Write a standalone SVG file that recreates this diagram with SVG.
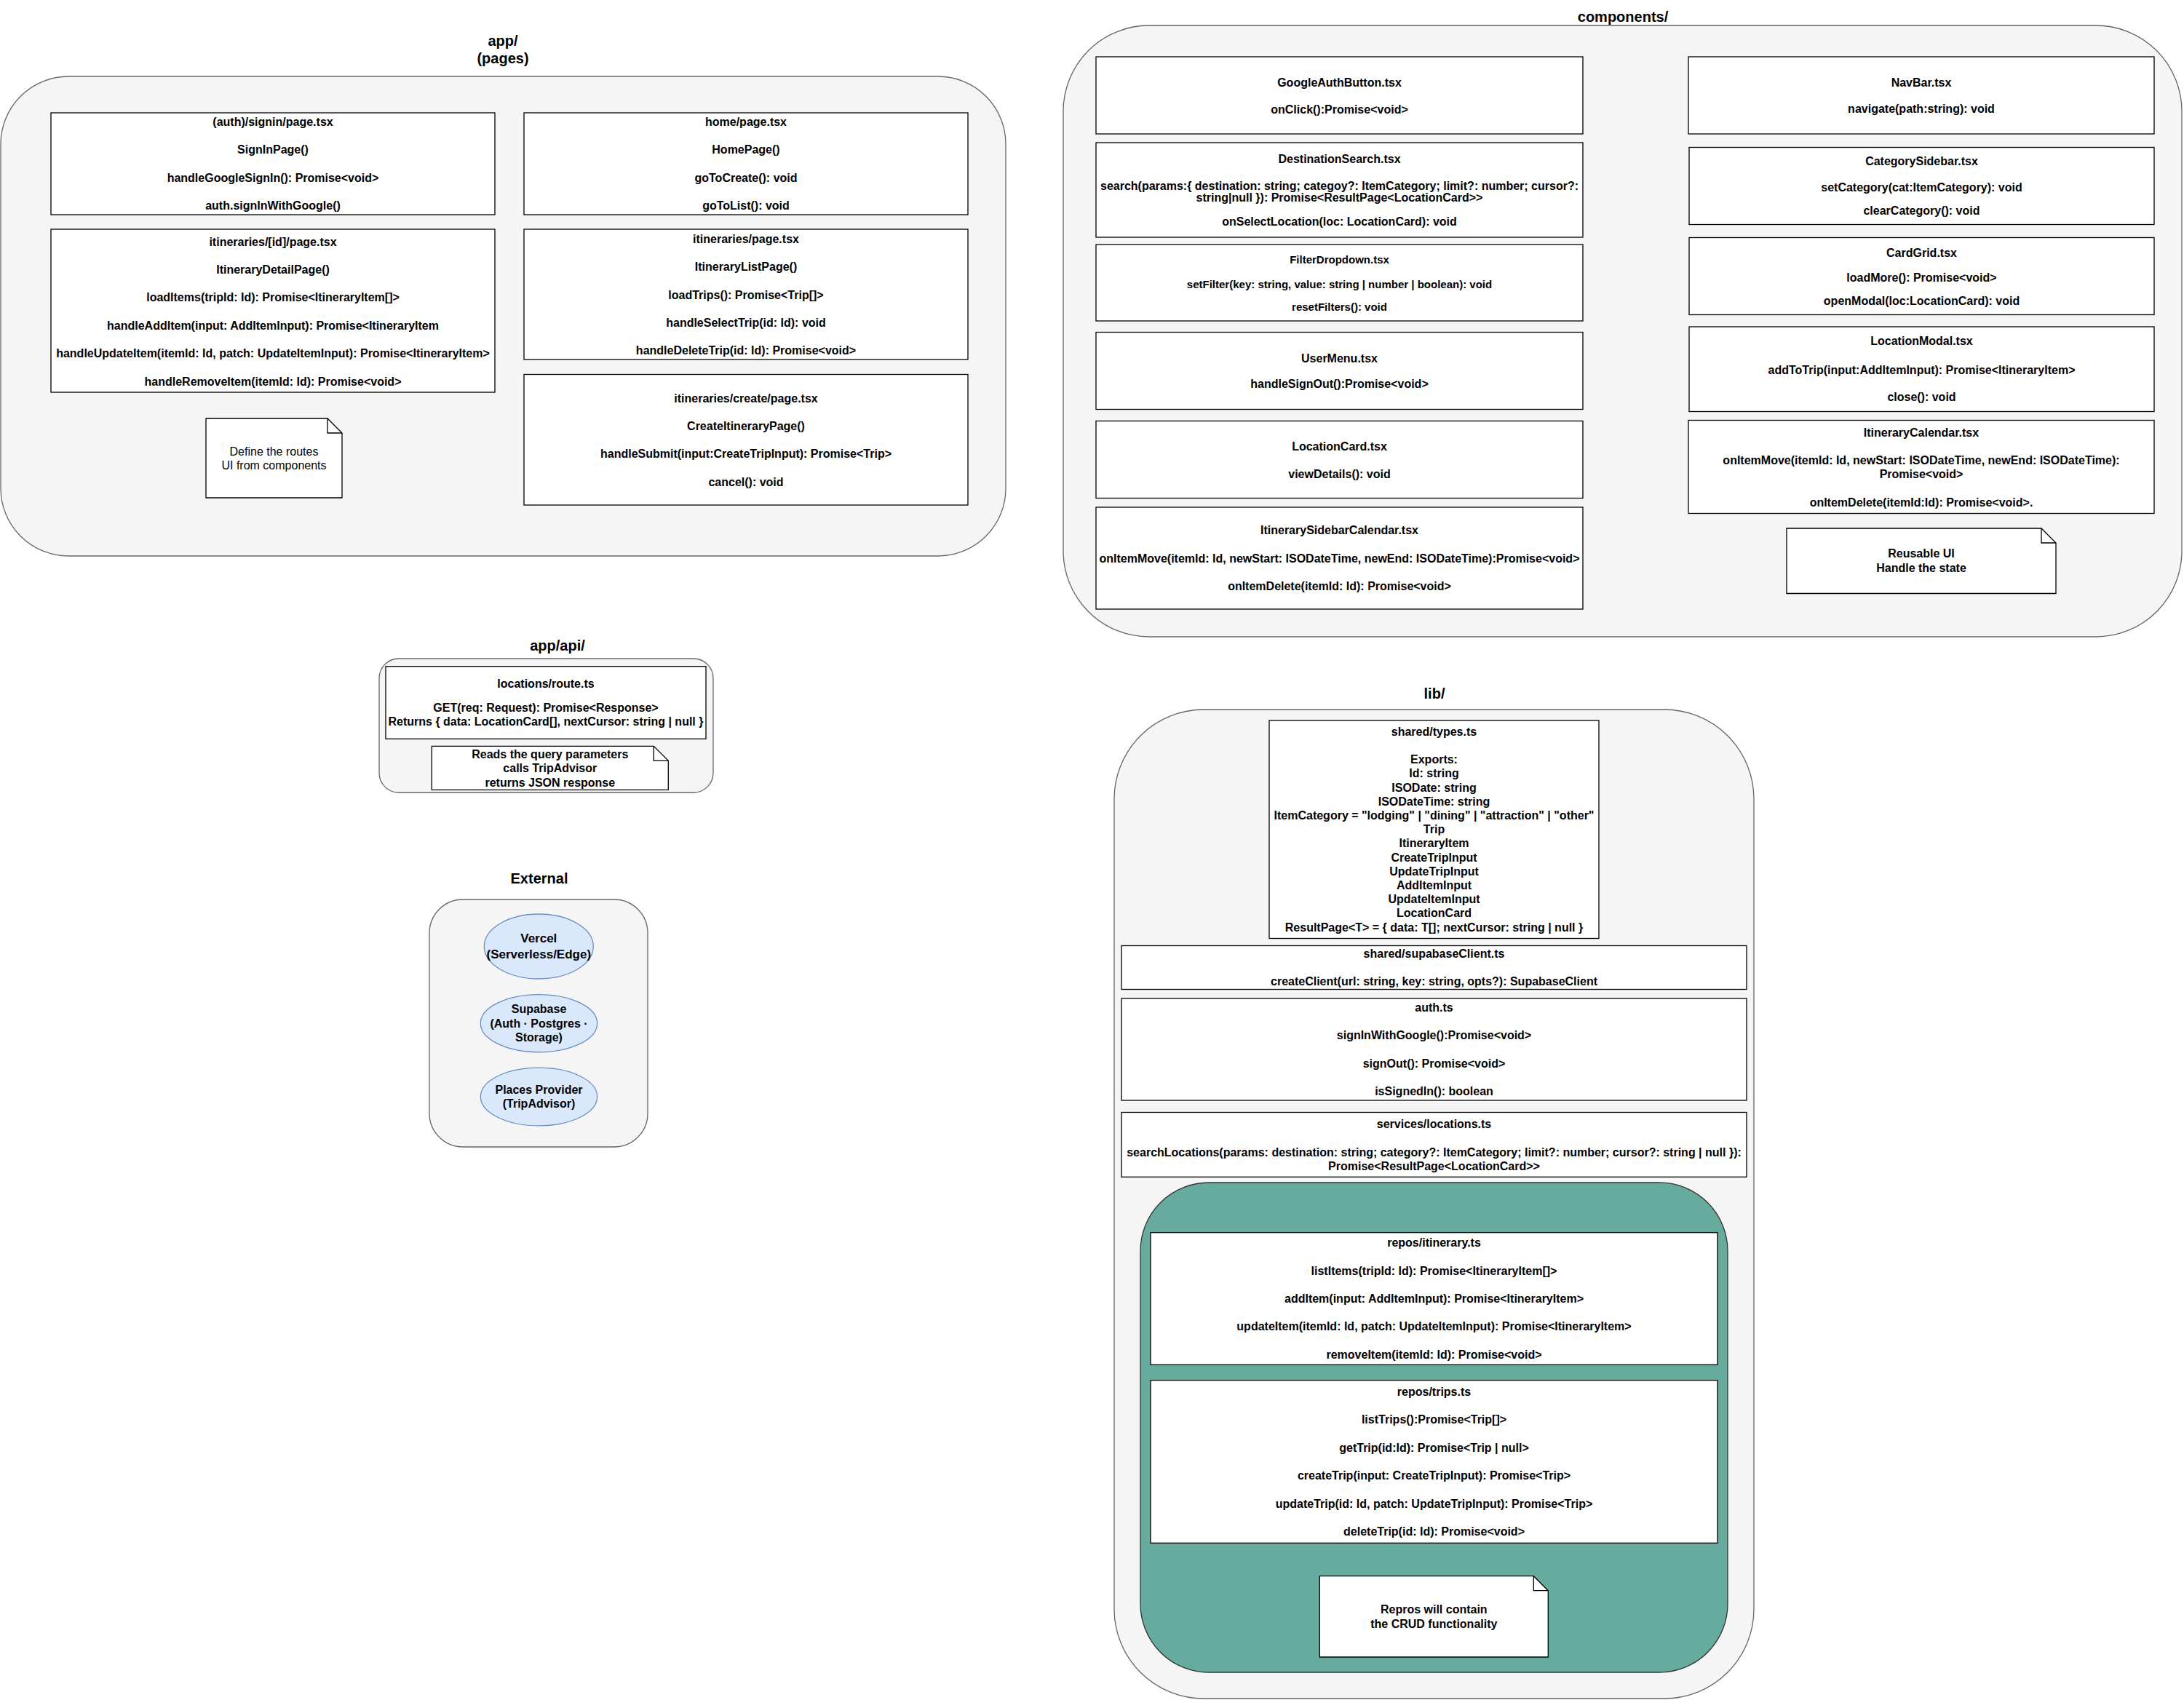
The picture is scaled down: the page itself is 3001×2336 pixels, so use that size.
<svg xmlns="http://www.w3.org/2000/svg" width="3001" height="2336" viewBox="0 0 3001 2336">
  <style>
    .bg { fill: #ffffff; }
    .container { fill: #f5f5f5; stroke: #666666; stroke-width: 1.3; }
    .box { fill: #ffffff; stroke: #000000; stroke-width: 1.3; }
    .note { fill: #ffffff; stroke: #000000; stroke-width: 1.3; stroke-linejoin: miter; }
    .fold { fill: none; stroke: #000000; stroke-width: 1.3; }
    .ext { fill: #dae8fc; stroke: #6c8ebf; stroke-width: 1.3; }
    .repo { fill: #67ab9f; stroke: #333333; stroke-width: 1.3; }
    text { font-family: "Liberation Sans", Arial, Helvetica, sans-serif; fill: #000000; text-anchor: middle; dominant-baseline: central; }
    .t { font-size: 16px; font-weight: bold; }
    .s { font-size: 15px; font-weight: bold; }
    .r { font-size: 16px; font-weight: normal; }
    .h { font-size: 20px; font-weight: bold; }
    .v { font-size: 17px; font-weight: bold; }
  </style>
  <rect class="bg" x="0" y="0" width="3001" height="2336"/>

  <!-- ===== app/ (pages) ===== -->
  <g id="app-pages">
    <rect class="container" x="1" y="105" width="1381" height="659" rx="93" ry="93"/>
    <text class="h" x="691" y="56">app/</text>
    <text class="h" x="691" y="80">(pages)</text>
  </g>
  <g id="signin-page">
    <rect class="box" x="70" y="155" width="610" height="140"/>
    <text class="t" x="375" y="167.5">(auth)/signin/page.tsx</text>
    <text class="t" x="375" y="205.8">SignInPage()</text>
    <text class="t" x="375" y="244">handleGoogleSignIn(): Promise&lt;void&gt;</text>
    <text class="t" x="375" y="282.4">auth.signInWithGoogle()</text>
  </g>
  <g id="home-page">
    <rect class="box" x="720" y="155" width="610" height="140"/>
    <text class="t" x="1025" y="167.5">home/page.tsx</text>
    <text class="t" x="1025" y="205.8">HomePage()</text>
    <text class="t" x="1025" y="244">goToCreate(): void</text>
    <text class="t" x="1025" y="282.4">goToList(): void</text>
  </g>
  <g id="itinerary-detail-page">
    <rect class="box" x="70" y="315" width="610" height="224"/>
    <text class="t" x="375" y="332">itineraries/[id]/page.tsx</text>
    <text class="t" x="375" y="370.4">ItineraryDetailPage()</text>
    <text class="t" x="375" y="408.8">loadItems(tripId: Id): Promise&lt;ItineraryItem[]&gt;</text>
    <text class="t" x="375" y="447.2">handleAddItem(input: AddItemInput): Promise&lt;ItineraryItem</text>
    <text class="t" x="375" y="485.6">handleUpdateItem(itemId: Id, patch: UpdateItemInput): Promise&lt;ItineraryItem&gt;</text>
    <text class="t" x="375" y="524">handleRemoveItem(itemId: Id): Promise&lt;void&gt;</text>
  </g>
  <g id="itinerary-list-page">
    <rect class="box" x="720" y="315" width="610" height="179"/>
    <text class="t" x="1025" y="328.3">itineraries/page.tsx</text>
    <text class="t" x="1025" y="366.7">ItineraryListPage()</text>
    <text class="t" x="1025" y="405.1">loadTrips(): Promise&lt;Trip[]&gt;</text>
    <text class="t" x="1025" y="443.5">handleSelectTrip(id: Id): void</text>
    <text class="t" x="1025" y="481.9">handleDeleteTrip(id: Id): Promise&lt;void&gt;</text>
  </g>
  <g id="create-itinerary-page">
    <rect class="box" x="720" y="514.5" width="610" height="179.5"/>
    <text class="t" x="1025" y="547">itineraries/create/page.tsx</text>
    <text class="t" x="1025" y="585.4">CreateItineraryPage()</text>
    <text class="t" x="1025" y="623.8">handleSubmit(input:CreateTripInput): Promise&lt;Trip&gt;</text>
    <text class="t" x="1025" y="662.2">cancel(): void</text>
  </g>
  <g id="note-pages">
    <path class="note" d="M283,575 H450 L470,595 V684 H283 Z"/>
    <path class="fold" d="M450,575 V595 H470"/>
    <text class="r" x="376.5" y="620">Define the routes</text>
    <text class="r" x="376.5" y="639.5">UI from components</text>
  </g>

  <!-- ===== components/ ===== -->
  <g id="components">
    <rect class="container" x="1461" y="35" width="1537" height="840" rx="118" ry="118"/>
    <text class="h" x="2230" y="23">components/</text>
  </g>
  <g id="google-auth-button">
    <rect class="box" x="1506" y="78" width="669" height="106"/>
    <text class="t" x="1840.5" y="113.5">GoogleAuthButton.tsx</text>
    <text class="t" x="1840.5" y="150">onClick():Promise&lt;void&gt;</text>
  </g>
  <g id="destination-search">
    <rect class="box" x="1506" y="196" width="669" height="130"/>
    <text class="t" x="1840.5" y="218.5">DestinationSearch.tsx</text>
    <text class="t" x="1840.5" y="255.3">search(params:{ destination: string; categoy?: ItemCategory; limit?: number; cursor?:</text>
    <text class="t" x="1840.5" y="271">string|null }): Promise&lt;ResultPage&lt;LocationCard&gt;&gt;</text>
    <text class="t" x="1840.5" y="304.3">onSelectLocation(loc: LocationCard): void</text>
  </g>
  <g id="filter-dropdown">
    <rect class="box" x="1506" y="336" width="669" height="105"/>
    <text class="s" x="1840.5" y="356.5">FilterDropdown.tsx</text>
    <text class="s" x="1840.5" y="390.5">setFilter(key: string, value: string | number | boolean): void</text>
    <text class="s" x="1840.5" y="421.3">resetFilters(): void</text>
  </g>
  <g id="user-menu">
    <rect class="box" x="1506" y="456.5" width="669" height="106"/>
    <text class="t" x="1840.5" y="492.5">UserMenu.tsx</text>
    <text class="t" x="1840.5" y="527.8">handleSignOut():Promise&lt;void&gt;</text>
  </g>
  <g id="location-card">
    <rect class="box" x="1506" y="578.5" width="669" height="106"/>
    <text class="t" x="1840.5" y="613.2">LocationCard.tsx</text>
    <text class="t" x="1840.5" y="651.4">viewDetails(): void</text>
  </g>
  <g id="itinerary-sidebar-calendar">
    <rect class="box" x="1506" y="697" width="669" height="140"/>
    <text class="t" x="1840.5" y="728.3">ItinerarySidebarCalendar.tsx</text>
    <text class="t" x="1840.5" y="767.6">onItemMove(itemId: Id, newStart: ISODateTime, newEnd: ISODateTime):Promise&lt;void&gt;</text>
    <text class="t" x="1840.5" y="805.8">onItemDelete(itemId: Id): Promise&lt;void&gt;</text>
  </g>
  <g id="nav-bar">
    <rect class="box" x="2320" y="78" width="640" height="106"/>
    <text class="t" x="2640" y="113.5">NavBar.tsx</text>
    <text class="t" x="2640" y="149.4">navigate(path:string): void</text>
  </g>
  <g id="category-sidebar">
    <rect class="box" x="2321" y="202.5" width="639" height="106"/>
    <text class="t" x="2640.5" y="221.3">CategorySidebar.tsx</text>
    <text class="t" x="2640.5" y="257.2">setCategory(cat:ItemCategory): void</text>
    <text class="t" x="2640.5" y="289.8">clearCategory(): void</text>
  </g>
  <g id="card-grid">
    <rect class="box" x="2321" y="326.5" width="639" height="106"/>
    <text class="t" x="2640.5" y="347">CardGrid.tsx</text>
    <text class="t" x="2640.5" y="381.9">loadMore(): Promise&lt;void&gt;</text>
    <text class="t" x="2640.5" y="413.9">openModal(loc:LocationCard): void</text>
  </g>
  <g id="location-modal">
    <rect class="box" x="2321" y="449" width="639" height="116.5"/>
    <text class="t" x="2640.5" y="468.9">LocationModal.tsx</text>
    <text class="t" x="2640.5" y="508.2">addToTrip(input:AddItemInput): Promise&lt;ItineraryItem&gt;</text>
    <text class="t" x="2640.5" y="545.8">close(): void</text>
  </g>
  <g id="itinerary-calendar">
    <rect class="box" x="2320" y="577.5" width="640" height="128"/>
    <text class="t" x="2640" y="594">ItineraryCalendar.tsx</text>
    <text class="t" x="2640" y="632">onItemMove(itemId: Id, newStart: ISODateTime, newEnd: ISODateTime):</text>
    <text class="t" x="2640" y="651.6">Promise&lt;void&gt;</text>
    <text class="t" x="2640" y="690">onItemDelete(itemId:Id): Promise&lt;void&gt;.</text>
  </g>
  <g id="note-components">
    <path class="note" d="M2455,726 H2805 L2825,746 V815.5 H2455 Z"/>
    <path class="fold" d="M2805,726 V746 H2825"/>
    <text class="t" x="2640" y="760.6">Reusable UI</text>
    <text class="t" x="2640" y="780.6">Handle the state</text>
  </g>

  <!-- ===== app/api/ ===== -->
  <g id="app-api">
    <rect class="container" x="521" y="905" width="459" height="184" rx="27" ry="27"/>
    <text class="h" x="766" y="887">app/api/</text>
  </g>
  <g id="locations-route">
    <rect class="box" x="530" y="915.7" width="440" height="99.6"/>
    <text class="t" x="750" y="939">locations/route.ts</text>
    <text class="t" x="750" y="972">GET(req: Request): Promise&lt;Response&gt;</text>
    <text class="t" x="750" y="991.7">Returns { data: LocationCard[], nextCursor: string | null }</text>
  </g>
  <g id="note-api">
    <path class="note" d="M593.3,1025.3 H898.3 L918.3,1045.3 V1085.3 H593.3 Z"/>
    <path class="fold" d="M898.3,1025.3 V1045.3 H918.3"/>
    <text class="t" x="755.8" y="1036.5">Reads the query parameters</text>
    <text class="t" x="755.8" y="1055.8">calls TripAdvisor</text>
    <text class="t" x="755.8" y="1075">returns JSON response</text>
  </g>

  <!-- ===== External ===== -->
  <g id="external">
    <rect class="container" x="590" y="1236" width="300" height="340" rx="46" ry="46"/>
    <text class="h" x="741" y="1206.5">External</text>
  </g>
  <g id="vercel">
    <ellipse class="ext" cx="740.3" cy="1300.5" rx="75" ry="44.5"/>
    <text class="v" x="740.3" y="1289.8">Vercel</text>
    <text class="v" x="740.3" y="1311">(Serverless/Edge)</text>
  </g>
  <g id="supabase">
    <ellipse class="ext" cx="740.5" cy="1406.2" rx="80.2" ry="39.6"/>
    <text class="t" x="740.5" y="1386.8">Supabase</text>
    <text class="t" x="740.5" y="1406">(Auth · Postgres ·</text>
    <text class="t" x="740.5" y="1425.2">Storage)</text>
  </g>
  <g id="places-provider">
    <ellipse class="ext" cx="740.5" cy="1507" rx="80.2" ry="39.9"/>
    <text class="t" x="740.5" y="1497">Places Provider</text>
    <text class="t" x="740.5" y="1516.2">(TripAdvisor)</text>
  </g>

  <!-- ===== lib/ ===== -->
  <g id="lib">
    <rect class="container" x="1531" y="975" width="879" height="1359" rx="123" ry="123"/>
    <text class="h" x="1971" y="952.5">lib/</text>
  </g>
  <g id="shared-types">
    <rect class="box" x="1744" y="990" width="453" height="299.5"/>
    <text class="t" x="1970.5" y="1005.3">shared/types.ts</text>
    <text class="t" x="1970.5" y="1043.7">Exports:</text>
    <text class="t" x="1970.5" y="1062.9">Id: string</text>
    <text class="t" x="1970.5" y="1082.1">ISODate: string</text>
    <text class="t" x="1970.5" y="1101.3">ISODateTime: string</text>
    <text class="t" x="1970.5" y="1120.5">ItemCategory = "lodging" | "dining" | "attraction" | "other"</text>
    <text class="t" x="1970.5" y="1139.7">Trip</text>
    <text class="t" x="1970.5" y="1158.9">ItineraryItem</text>
    <text class="t" x="1970.5" y="1178.1">CreateTripInput</text>
    <text class="t" x="1970.5" y="1197.3">UpdateTripInput</text>
    <text class="t" x="1970.5" y="1216.5">AddItemInput</text>
    <text class="t" x="1970.5" y="1235.7">UpdateItemInput</text>
    <text class="t" x="1970.5" y="1254.9">LocationCard</text>
    <text class="t" x="1970.5" y="1274.1">ResultPage&lt;T&gt; = { data: T[]; nextCursor: string | null }</text>
  </g>
  <g id="supabase-client">
    <rect class="box" x="1541" y="1299.5" width="859" height="60"/>
    <text class="t" x="1970.5" y="1310.3">shared/supabaseClient.ts</text>
    <text class="t" x="1970.5" y="1348.7">createClient(url: string, key: string, opts?): SupabaseClient</text>
  </g>
  <g id="auth">
    <rect class="box" x="1541" y="1372" width="859" height="140"/>
    <text class="t" x="1970.5" y="1384.4">auth.ts</text>
    <text class="t" x="1970.5" y="1422.8">signInWithGoogle():Promise&lt;void&gt;</text>
    <text class="t" x="1970.5" y="1461.2">signOut(): Promise&lt;void&gt;</text>
    <text class="t" x="1970.5" y="1499.6">isSignedIn(): boolean</text>
  </g>
  <g id="services-locations">
    <rect class="box" x="1541" y="1528.5" width="859" height="88.8"/>
    <text class="t" x="1970.5" y="1544">services/locations.ts</text>
    <text class="t" x="1970.5" y="1583">searchLocations(params: destination: string; category?: ItemCategory; limit?: number; cursor?: string | null }):</text>
    <text class="t" x="1970.5" y="1602">Promise&lt;ResultPage&lt;LocationCard&gt;&gt;</text>
  </g>
  <g id="repos">
    <rect class="repo" x="1567" y="1625" width="807" height="673" rx="94" ry="94"/>
  </g>
  <g id="repo-itinerary">
    <rect class="box" x="1581" y="1693.7" width="779" height="181.6"/>
    <text class="t" x="1970.5" y="1707.7">repos/itinerary.ts</text>
    <text class="t" x="1970.5" y="1746.1">listItems(tripId: Id): Promise&lt;ItineraryItem[]&gt;</text>
    <text class="t" x="1970.5" y="1784.5">addItem(input: AddItemInput): Promise&lt;ItineraryItem&gt;</text>
    <text class="t" x="1970.5" y="1822.9">updateItem(itemId: Id, patch: UpdateItemInput): Promise&lt;ItineraryItem&gt;</text>
    <text class="t" x="1970.5" y="1861.3">removeItem(itemId: Id): Promise&lt;void&gt;</text>
  </g>
  <g id="repo-trips">
    <rect class="box" x="1581" y="1896.7" width="779" height="223.6"/>
    <text class="t" x="1970.5" y="1912.5">repos/trips.ts</text>
    <text class="t" x="1970.5" y="1950.9">listTrips():Promise&lt;Trip[]&gt;</text>
    <text class="t" x="1970.5" y="1989.3">getTrip(id:Id): Promise&lt;Trip | null&gt;</text>
    <text class="t" x="1970.5" y="2027.7">createTrip(input: CreateTripInput): Promise&lt;Trip&gt;</text>
    <text class="t" x="1970.5" y="2066.1">updateTrip(id: Id, patch: UpdateTripInput): Promise&lt;Trip&gt;</text>
    <text class="t" x="1970.5" y="2104.5">deleteTrip(id: Id): Promise&lt;void&gt;</text>
  </g>
  <g id="note-repos">
    <path class="note" d="M1813.3,2165.7 H2107.3 L2127.3,2185.7 V2277 H1813.3 Z"/>
    <path class="fold" d="M2107.3,2165.7 V2185.7 H2127.3"/>
    <text class="t" x="1970.3" y="2211.8">Repros will contain</text>
    <text class="t" x="1970.3" y="2231">the CRUD functionality</text>
  </g>

  <!-- no connectors are drawn between the modules -->
  <g id="connectors"/>
</svg>
